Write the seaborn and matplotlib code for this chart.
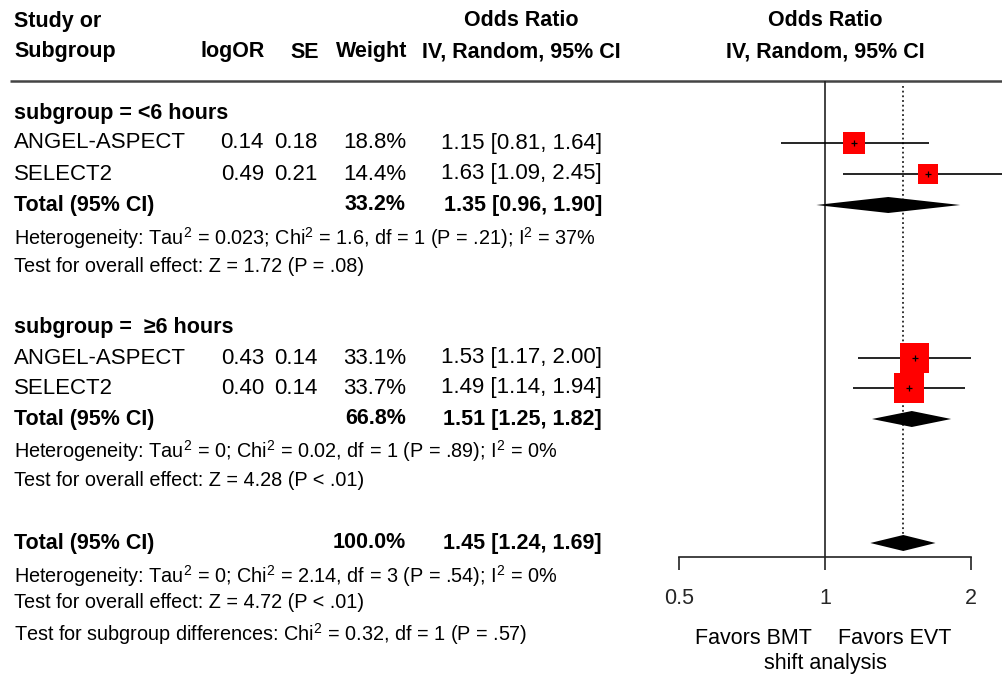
import matplotlib
matplotlib.use("Agg")
import matplotlib.pyplot as plt
import numpy as np
import pandas as pd
import seaborn as sns

# ---- study-level data ----
studies = ["ANGEL-ASPECT", "SELECT2", "ANGEL-ASPECT", "SELECT2"]
groups = ["<6 hours", "<6 hours", "≥6 hours", "≥6 hours"]
log_or = [0.14, 0.49, 0.43, 0.40]
se = [0.18, 0.21, 0.14, 0.14]
weight = [18.8, 14.4, 33.1, 33.7]
odds_ratio = [1.15, 1.63, 1.53, 1.49]
ci_low = [0.81, 1.09, 1.17, 1.14]
ci_high = [1.64, 2.45, 2.00, 1.94]

# ---- subgroup pooled estimates ----
sub_labels = ["subgroup = <6 hours", "subgroup =  ≥6 hours"]
sub_weight = [33.2, 66.8]
sub_or = [1.35, 1.51]
sub_low = [0.96, 1.25]
sub_high = [1.90, 1.82]
sub_het = [
    r"Heterogeneity: Tau$^2$ = 0.023; Chi$^2$ = 1.6, df = 1 (P = .21); I$^2$ = 37%",
    r"Heterogeneity: Tau$^2$ = 0; Chi$^2$ = 0.02, df = 1 (P = .89); I$^2$ = 0%",
]
sub_test = [
    "Test for overall effect: Z = 1.72 (P = .08)",
    "Test for overall effect: Z = 4.28 (P < .01)",
]

# ---- overall pooled estimate ----
total_weight = 100.0
total_or = 1.45
total_low = 1.24
total_high = 1.69
total_het = r"Heterogeneity: Tau$^2$ = 0; Chi$^2$ = 2.14, df = 3 (P = .54); I$^2$ = 0%"
total_test = "Test for overall effect: Z = 4.72 (P < .01)"
subgroup_diff = r"Test for subgroup differences: Chi$^2$ = 0.32, df = 1 (P = .57)"

x_ticks = [0.5, 1, 2]
x_tick_labels = ["0.5", "1", "2"]
favors_left = "Favors BMT"
favors_right = "Favors EVT"
axis_title = "shift analysis"

# ---- styling ----
sns.set_theme(style="white")
plt.rcParams["font.family"] = ["Liberation Sans", "DejaVu Sans"]
plt.rcParams["mathtext.fontset"] = "custom"
plt.rcParams["mathtext.rm"] = "Liberation Sans"
plt.rcParams["mathtext.it"] = "Liberation Sans:italic"
plt.rcParams["mathtext.bf"] = "Liberation Sans:bold"

W, H = 1002, 675
fig = plt.figure(figsize=(W / 100, H / 100), dpi=100)
fig.patch.set_facecolor("white")

# full-figure axes in pixel units for the table text
tax = fig.add_axes([0, 0, 1, 1])
tax.set_xlim(0, W)
tax.set_ylim(H, 0)
tax.axis("off")

FS_HEAD = 15.5
FS_ROW = 16
FS_NOTE = 14.3
INK = "black"

# row layout (pixel rows)
y_head1, y_head2, y_rule = 21, 52, 81
y_sub = [113, 328]
y_study = [143, 174, 358, 388]
y_subtot = [205, 419]
y_het = [238, 451]
y_test = [266, 480]
y_total, y_total_het, y_total_test, y_diff = 543, 576, 603, 634

x_left = 14
x_logor, x_se, x_w, x_ci_c, x_ci_r = 265, 319, 407, 521, 602
x_plot_c = 825

def txt(x, y, s, size=FS_ROW, bold=False, ha="left"):
    tax.text(x, y, s, fontsize=size, fontweight="bold" if bold else "normal",
             ha=ha, va="center", color=INK)

# header
txt(x_left, y_head1, "Study or", FS_HEAD, True)
txt(x_left, y_head2, "Subgroup", FS_HEAD, True)
txt(x_logor, y_head2, "logOR", FS_HEAD, True, "right")
txt(x_se, y_head2, "SE", FS_HEAD, True, "right")
txt(x_w, y_head2, "Weight", FS_HEAD, True, "right")
txt(x_ci_c, y_head1, "Odds Ratio", FS_HEAD, True, "center")
txt(x_ci_c, y_head2, "IV, Random, 95% CI", FS_HEAD, True, "center")
txt(x_plot_c, y_head1, "Odds Ratio", FS_HEAD, True, "center")
txt(x_plot_c, y_head2, "IV, Random, 95% CI", FS_HEAD, True, "center")
tax.plot([10, W], [y_rule, y_rule], color="#444444", lw=1.8, solid_capstyle="butt")

# study rows
for i, name in enumerate(studies):
    y = y_study[i]
    txt(x_left, y, name)
    txt(x_logor - 1, y, f"{log_or[i]:.2f}", ha="right")
    txt(x_se - 1, y, f"{se[i]:.2f}", ha="right")
    txt(x_w - 1, y, f"{weight[i]:.1f}%", ha="right")
    txt(x_ci_r, y, f"{odds_ratio[i]:.2f} [{ci_low[i]:.2f}, {ci_high[i]:.2f}]", ha="right")

# subgroup blocks
for g in range(2):
    txt(x_left, y_sub[g], sub_labels[g], FS_HEAD, True)
    txt(x_left, y_subtot[g], "Total (95% CI)", FS_HEAD, True)
    txt(x_w - 1, y_subtot[g], f"{sub_weight[g]:.1f}%", FS_HEAD, True, "right")
    txt(x_ci_r, y_subtot[g], f"{sub_or[g]:.2f} [{sub_low[g]:.2f}, {sub_high[g]:.2f}]",
        FS_HEAD, True, "right")
    txt(x_left, y_het[g], sub_het[g], FS_NOTE)
    txt(x_left, y_test[g], sub_test[g], FS_NOTE)

# overall block
txt(x_left, y_total, "Total (95% CI)", FS_HEAD, True)
txt(x_w - 1, y_total, f"{total_weight:.1f}%", FS_HEAD, True, "right")
txt(x_ci_r, y_total, f"{total_or:.2f} [{total_low:.2f}, {total_high:.2f}]",
    FS_HEAD, True, "right")
txt(x_left, y_total_het, total_het, FS_NOTE)
txt(x_left, y_total_test, total_test, FS_NOTE)
txt(x_left, y_diff, subgroup_diff, FS_NOTE)

# ---- forest panel ----
px_one, px_per_log2 = 825, 146
ax_left, ax_right, ax_top, ax_bottom = 660, W, y_rule, 557
fax = fig.add_axes([ax_left / W, (H - ax_bottom) / H,
                    (ax_right - ax_left) / W, (ax_bottom - ax_top) / H])
fax.patch.set_visible(False)
fax.set_xscale("log", base=2)
fax.set_xlim(2 ** ((ax_left - px_one) / px_per_log2), 2 ** ((ax_right - px_one) / px_per_log2))
fax.set_ylim(ax_bottom, ax_top)

df = pd.DataFrame({"study": studies, "group": groups, "or": odds_ratio,
                   "lo": ci_low, "hi": ci_high, "w": weight, "y": y_study})

# line of no effect and pooled-effect reference
fax.axvline(1, color="#222222", lw=1.2, zorder=1)
diamond_h = 16
fax.vlines(total_or, 86, y_total - diamond_h / 2, color="#222222", lw=1.3,
           linestyles=(0, (1, 1.6)), zorder=1)

# confidence intervals
fax.hlines(df["y"], df["lo"], df["hi"], color="black", lw=1.2, zorder=2)

# weighted squares (area proportional to weight)
sq_scale = 1.22 * 14.4 ** 2 / 18.8
sns.scatterplot(data=df, x="or", y="y", marker="s", color="#ff0000",
                s=df["w"] * sq_scale, linewidth=0, legend=False, ax=fax, zorder=3)
fax.scatter(df["or"], df["y"], marker="+", s=22, color="black", linewidths=0.9, zorder=4)

# pooled diamonds
def diamond(est, lo, hi, y):
    fax.fill([lo, est, hi, est], [y, y - diamond_h / 2, y, y + diamond_h / 2],
             color="black", lw=0, zorder=3)

for g in range(2):
    diamond(sub_or[g], sub_low[g], sub_high[g], y_subtot[g])
diamond(total_or, total_low, total_high, y_total)

# axis
for side in ["top", "right", "left"]:
    fax.spines[side].set_visible(False)
fax.spines["bottom"].set_bounds(x_ticks[0], x_ticks[-1])
fax.spines["bottom"].set_linewidth(1.2)
fax.spines["bottom"].set_color("#222222")
fax.set_yticks([])
fax.set_xticks(x_ticks)
fax.set_xticklabels(x_tick_labels)
fax.xaxis.set_minor_locator(matplotlib.ticker.NullLocator())
fax.tick_params(axis="x", direction="out", length=9, width=1.2, color="#222222",
                labelsize=15.5, pad=13.5, bottom=True)
fax.set_xlabel("")
fax.set_ylabel("")
for lab in fax.get_xticklabels():
    lab.set_clip_on(False)

txt(812, 638, favors_left, 15.5, ha="right")
txt(838, 638, favors_right, 15.5, ha="left")
txt(x_plot_c, 663, axis_title, 15.5, ha="center")

fig.savefig("out.png", dpi=100, facecolor="white")
